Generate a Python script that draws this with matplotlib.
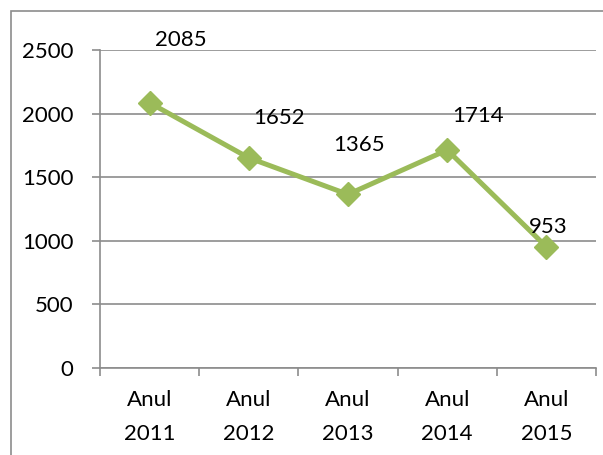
import matplotlib
matplotlib.use("Agg")
import matplotlib.pyplot as plt
from matplotlib.patches import Rectangle

categories = ["Anul\n2011", "Anul\n2012", "Anul\n2013", "Anul\n2014", "Anul\n2015"]
values = [2085, 1652, 1365, 1714, 953]
yticks = [0, 500, 1000, 1500, 2000, 2500]

# label offsets in pixels (dx, dy)
label_offsets = [(31, 63), (30, 40), (11, 49), (31, 34), (2, 20)]

W, H = 603, 455
fig = plt.figure(figsize=(W / 100, H / 100), dpi=100)
plt.rcParams['font.family'] = ['Lato', 'DejaVu Sans']
FS = 16

# outer chart border
fig.patches.append(Rectangle((11 / W, -0.1), 1.2, 1 - 11 / H + 0.1, transform=fig.transFigure,
                             fill=False, edgecolor='#8c8c8c', linewidth=1.2, clip_on=False))

ax = fig.add_axes([100 / W, 87 / H, 496 / W, 318 / H])
x = list(range(len(categories)))
ax.plot(x, values, color='#9BBB59', linewidth=3.6, marker='D', markersize=12,
        markerfacecolor='#9BBB59', markeredgecolor='#9BBB59', zorder=3, clip_on=False)

for xi, v, (dx, dy) in zip(x, values, label_offsets):
    ax.annotate(str(v), (xi, v), xytext=(dx * 0.72, dy * 0.72), textcoords='offset points',
                ha='center', va='center', fontsize=FS, color='black')

ax.set_xlim(-0.5, len(categories) - 0.5)
ax.set_ylim(0, 2500)
ax.set_yticks(yticks)
ax.set_yticklabels([str(t) for t in yticks], fontsize=FS)
ax.yaxis.grid(True, color='#8c8c8c', linewidth=1.2)
ax.set_axisbelow(True)

ax.set_xticks(x)
ax.set_xticklabels(categories, fontsize=FS, linespacing=1.85)
ax.tick_params(axis='x', length=0, pad=16)
ax.set_xticks([i - 0.5 for i in range(len(categories) + 1)], minor=True)
ax.tick_params(axis='x', which='minor', length=6, color='#8c8c8c', width=1.2)
ax.tick_params(axis='y', length=6, color='#8c8c8c', width=1.2, pad=13)

for s in ['top', 'right']:
    ax.spines[s].set_visible(False)
for s in ['left', 'bottom']:
    ax.spines[s].set_color('#8c8c8c')
    ax.spines[s].set_linewidth(1.2)

fig.savefig("out.png", dpi=100)
